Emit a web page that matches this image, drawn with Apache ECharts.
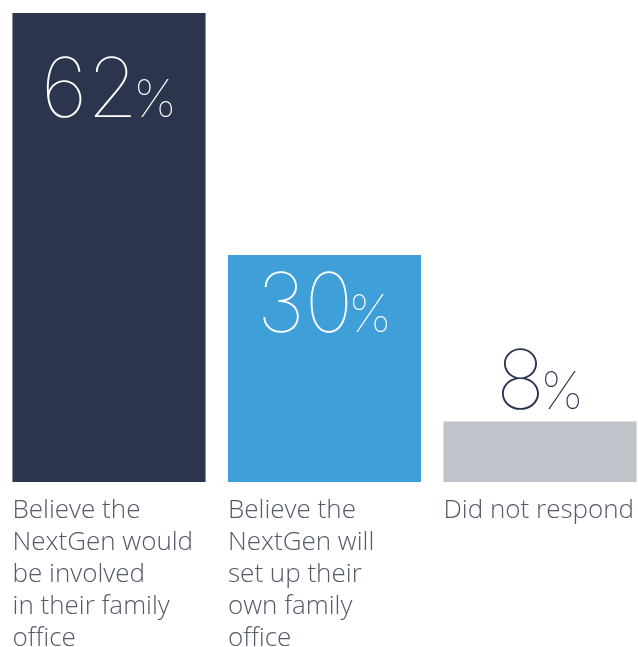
<!DOCTYPE html>
<html>
<head>
<meta charset="utf-8">
<script src="https://cdn.jsdelivr.net/npm/echarts@6/dist/echarts.min.js"></script>
<style>
  html, body { margin: 0; padding: 0; background: #ffffff; }
  #chart { width: 638px; height: 647px; }
</style>
</head>
<body>
<div id="chart"></div>
<script>
// Survey answers and their shares (percent of respondents)
const categories = [
  'Believe the\nNextGen would\nbe involved\nin their family\noffice',
  'Believe the\nNextGen will\nset up their\nown family\noffice',
  'Did not respond'
];
const shares = [62, 30, 8];

// Look of each bar and its value label
const barColors = ['#2b354d', '#3f9fd8', '#c0c3ca'];
const valueColors = ['#ffffff', '#ffffff', '#2b354d'];
const valuePlacement = [['50%', 38], ['50%', 11], 'top'];

const chart = echarts.init(document.getElementById('chart'), null, { renderer: 'canvas' });

const numberFont = 'Inter';
const textFont = 'Open Sans';

chart.setOption({
  animation: false,
  backgroundColor: '#ffffff',
  grid: {
    left: 1.25, width: 646.5, top: 13, bottom: 165,
    containLabel: false,
    outerBoundsMode: 'none'
  },
  xAxis: {
    type: 'category',
    data: categories,
    axisLine: { show: false },
    axisTick: { show: false },
    axisLabel: {
      interval: 0,
      margin: 13,
      width: 193,
      overflow: 'none',
      align: 'center',
      verticalAlign: 'top',
      formatter: function (v) { return '{t|' + v + '}'; },
      rich: {
        t: {
          align: 'left',
          fontFamily: textFont,
          fontWeight: 300,
          fontSize: 26,
          lineHeight: 32,
          color: '#535a68'
        }
      }
    }
  },
  yAxis: {
    type: 'value',
    min: 0,
    max: Math.max.apply(null, shares),
    show: false,
    splitLine: { show: false }
  },
  series: [{
    type: 'bar',
    barCategoryGap: '10.4%',
    data: shares.map(function (v, i) {
      return {
        value: v,
        itemStyle: { color: barColors[i] },
        label: {
          show: true,
          position: valuePlacement[i],
          distance: -4,
          align: 'center',
          verticalAlign: valuePlacement[i] === 'top' ? 'bottom' : 'top',
          formatter: '{n|' + v + '}{p|%}',
          rich: {
            n: { fontFamily: numberFont, fontWeight: 100, fontSize: 82, color: valueColors[i], verticalAlign: 'bottom', lineHeight: 82 },
            p: { fontFamily: numberFont, fontWeight: 100, fontSize: 52, color: valueColors[i], verticalAlign: 'bottom', lineHeight: 52, padding: [0, 0, 6, -5] }
          }
        }
      };
    })
  }]
});
</script>
</body>
</html>
